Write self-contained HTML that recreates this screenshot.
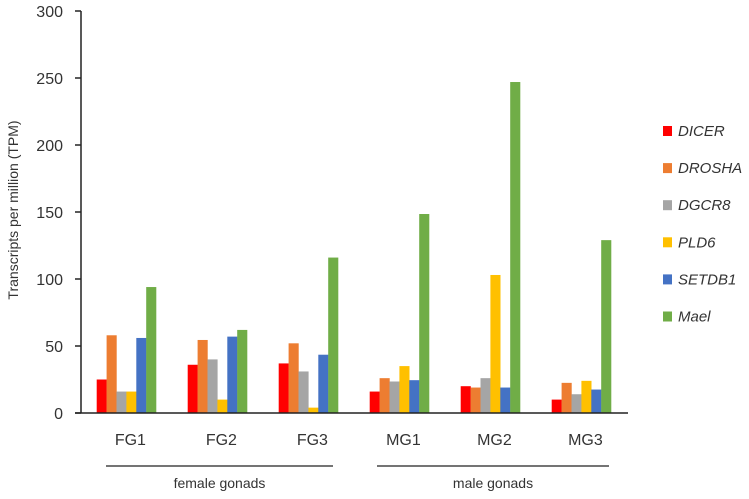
<!DOCTYPE html>
<html><head><meta charset="utf-8"><style>
body{margin:0;background:#fff;}
svg text{font-family:"Liberation Sans",sans-serif;fill:#333;}
</style></head><body>
<svg id="chart" width="749" height="494"></svg>
<script>
const categories=["FG1","FG2","FG3","MG1","MG2","MG3"];
const seriesNames=["DICER","DROSHA","DGCR8","PLD6","SETDB1","Mael"];
const seriesColors=["#ff0000","#ed7d31","#a5a5a5","#ffc000","#4472c4","#70ad47"];
const dicer=[25,36,37,16,20,10];
const drosha=[58,54.5,52,26,19,22.5];
const dgcr8=[16,40,31,23.5,26,14];
const pld6=[16,10,4,35,103,24];
const setdb1=[56,57,43.5,24.5,19,17.5];
const mael=[94,62,116,148.5,247,129];
const series=[dicer,drosha,dgcr8,pld6,setdb1,mael];
const yTicks=[0,50,100,150,200,250,300];
const NS="http://www.w3.org/2000/svg";
const svg=document.getElementById("chart");
const y0=413,yTop=11,yMax=300;
const y=v=>y0-(v/yMax)*(y0-yTop);
const groupX=i=>96.7+i*91;
const barW=9.9;
function mk(t,a){const e=document.createElementNS(NS,t);for(const k in a)e.setAttribute(k,a[k]);svg.appendChild(e);return e;}
let ax=mk("line",{x1:81,y1:yTop,x2:81,y2:y0,stroke:"#222","stroke-width":1.5});


yTicks.forEach(t=>{
 let l=mk("line",{x1:75,y1:y(t),x2:81,y2:y(t),stroke:"#222","stroke-width":1.5});
 
 
 let tx=mk("text",{x:63,y:y(t)+6,"text-anchor":"end","font-size":16});
 tx.textContent=t;
 
 
});
let yl=mk("text",{x:0,y:0,"text-anchor":"middle","font-size":14,transform:"translate(18,210) rotate(-90)"});
yl.textContent="Transcripts per million (TPM)";


categories.forEach((c,i)=>{
 series.forEach((s,j)=>{
  let r=mk("rect",{x:groupX(i)+j*barW,y:y(s[i]),width:barW+0.2,height:y0-y(s[i]),fill:seriesColors[j]});
  
  
 });
 let t=mk("text",{x:groupX(i)+3*barW+4,y:445,"text-anchor":"middle","font-size":16});
 t.textContent=c;
 
 
});
let xa=mk("line",{x1:75,y1:y0,x2:628,y2:y0,stroke:"#222","stroke-width":1.5});


[[106,333,"female gonads"],[377,609,"male gonads"]].forEach(g=>{
 let l=mk("line",{x1:g[0],y1:466,x2:g[1],y2:466,stroke:"#222","stroke-width":1.2});
 
 
 let t=mk("text",{x:(g[0]+g[1])/2,y:488,"text-anchor":"middle","font-size":14});
 t.textContent=g[2];
 
 
});
seriesNames.forEach((n,j)=>{
 const cy=131+j*37.1;
 let r=mk("rect",{x:663,y:cy-5,width:9,height:10,fill:seriesColors[j]});
 
 
 let t=mk("text",{x:678,y:cy+5,"font-size":15,"font-style":"italic"});
 t.textContent=n;
 
 
});
</script>
</body></html>
